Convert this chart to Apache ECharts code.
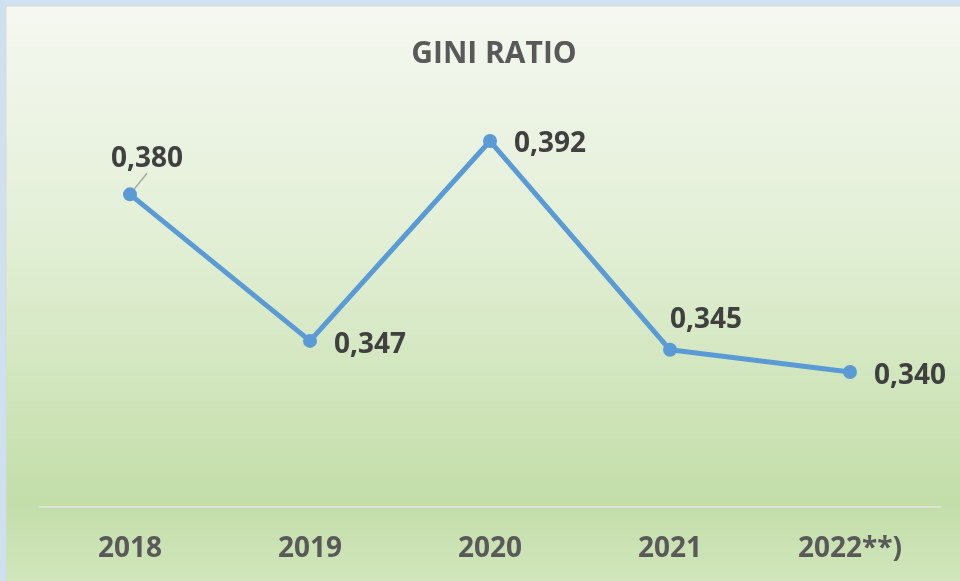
<!DOCTYPE html>
<html><head><meta charset="utf-8">
<script src="https://cdn.jsdelivr.net/npm/echarts@6/dist/echarts.min.js"></script>
<style>html,body{margin:0;padding:0;background:#cfe0f0;}#c{width:960px;height:581px;}</style>
</head><body><div id="c"></div>
<script>
const categories = ['2018', '2019', '2020', '2021', '2022**)'];
const giniValues = [0.380, 0.347, 0.392, 0.345, 0.340];
const labelMoves = [[17, 3], [0, 4], [0, 3], [36, 8], [0, 4]];
const labelPositions = ['top', 'right', 'right', 'top', 'right'];
const labelGuides = [true, false, false, false, false];

const chart = echarts.init(document.getElementById('c'));
const font = '"Open Sans", "Noto Sans", sans-serif';
chart.setOption({
  animation: false,
  backgroundColor: '#cfe0f0',
  graphic: [{
    type: 'rect', z: -10, silent: true,
    shape: {x: 6, y: 6, width: 960, height: 581},
    style: {
      stroke: '#d8dcd4', lineWidth: 1,
      fill: new echarts.graphic.LinearGradient(0, 0, 0, 1, [
        {offset: 0, color: '#f5f8f1'},
        {offset: 0.4, color: '#e2efd5'},
        {offset: 0.85, color: '#c3dea9'},
        {offset: 1, color: '#d1e6bd'}
      ])
    }
  }],
  title: {
    text: 'GINI RATIO', left: 489, top: 34, textAlign: 'center',
    textStyle: {fontFamily: font, fontWeight: 'bold', fontSize: 30, color: '#595959'}
  },
  grid: {left: 40, right: 20, top: 105.5, bottom: 74},
  xAxis: {
    type: 'category', data: categories, boundaryGap: true,
    axisLine: {lineStyle: {color: '#dde3d6', width: 2}},
    axisTick: {show: false},
    axisLabel: {margin: 28, fontFamily: font, fontWeight: 'bold', fontSize: 28, color: '#595959'}
  },
  yAxis: {
    type: 'value', min: 0.3096, max: 0.40, show: false,
    splitLine: {show: false}
  },
  series: [{
    type: 'line',
    data: giniValues.map((v, i) => ({
      value: v,
      label: {position: labelPositions[i]},
      labelLine: {show: labelGuides[i]}
    })),
    symbol: 'circle', symbolSize: 14,
    lineStyle: {color: '#5b9bd5', width: 5},
    itemStyle: {color: '#5b9bd5'},
    label: {
      show: true, fontFamily: font, fontWeight: 'bold', fontSize: 28, color: '#404040',
      distance: 17,
      formatter: p => p.value.toFixed(3).replace('.', ',')
    },
    labelLine: {show: false, lineStyle: {color: '#a6a6a6', width: 1.5}},
    labelLayout: p => ({dx: labelMoves[p.dataIndex][0], dy: labelMoves[p.dataIndex][1]})
  }]
});
</script></body></html>
